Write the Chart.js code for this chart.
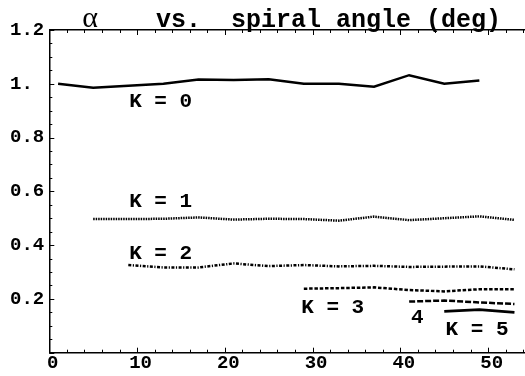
<!DOCTYPE html>
<html>
<head>
<meta charset="utf-8">
<title>alpha vs spiral angle</title>
<script src="https://cdn.jsdelivr.net/npm/chart.js@4.4.1/dist/chart.umd.min.js"></script>
<style>
  html, body { margin: 0; padding: 0; background: #fff; }
  #wrap { width: 525px; height: 376px; }
</style>
</head>
<body>
<div id="wrap"><canvas id="plot" width="525" height="376"></canvas></div>
<script>
"use strict";

// alpha for each K, sampled along the spiral angle (deg)
const ANGLE_K0 = [1, 5, 9, 13, 17, 21, 25, 29, 33, 37, 41, 45, 49];
const ALPHA_K0 = [1.00, 0.985, 0.993, 1.00, 1.016, 1.014, 1.017, 1.00, 1.00, 0.989, 1.032, 1.00, 1.012];

const ANGLE_K1 = [5, 9, 13, 17, 21, 25, 29, 33, 37, 41, 45, 49, 53];
const ALPHA_K1 = [0.497, 0.497, 0.498, 0.503, 0.495, 0.498, 0.497, 0.491, 0.506, 0.493, 0.500, 0.507, 0.494];

const ANGLE_K2 = [9, 13, 17, 21, 25, 29, 33, 37, 41, 45, 49, 53];
const ALPHA_K2 = [0.326, 0.317, 0.317, 0.332, 0.322, 0.326, 0.321, 0.323, 0.319, 0.320, 0.321, 0.310];

const ANGLE_K3 = [29, 33, 37, 41, 45, 49, 53];
const ALPHA_K3 = [0.238, 0.240, 0.243, 0.233, 0.228, 0.236, 0.236];

const ANGLE_K4 = [41, 45, 49, 53];
const ALPHA_K4 = [0.190, 0.194, 0.187, 0.181];

const ANGLE_K5 = [45, 49, 53];
const ALPHA_K5 = [0.154, 0.160, 0.150];

// axis ticks
const X_TICKS = [0, 10, 20, 30, 40, 50];
const X_TICK_LABELS = ["0", "10", "20", "30", "40", "50"];
const X_MINOR = [2, 4, 6, 8, 12, 14, 16, 18, 22, 24, 26, 28, 32, 34, 36, 38, 42, 44, 46, 48, 52, 54];
const Y_TICKS = [0, 0.2, 0.4, 0.6, 0.8, 1.0, 1.2];
const Y_TICK_LABELS = ["", "0.2", "0.4", "0.6", "0.8", "1.", "1.2"];
const Y_MINOR = [0.05, 0.1, 0.15, 0.25, 0.3, 0.35, 0.45, 0.5, 0.55, 0.65, 0.7, 0.75, 0.85, 0.9, 0.95, 1.05, 1.1, 1.15];

// curve names, anchored at their left edge in data units
const CURVE_NAMES = ["K = 0", "K = 1", "K = 2", "K = 3", "4", "K = 5"];
const NAME_X = [9.1, 9.1, 9.1, 28.7, 41.2, 45.15];
const NAME_Y = [0.933, 0.561, 0.367, 0.167, 0.130, 0.087];

const MONO = "'Liberation Mono', 'DejaVu Sans Mono', monospace";

const pts = (xs, ys) => xs.map((x, i) => ({ x, y: ys[i] }));

function series(xs, ys, width, dash) {
  return {
    data: pts(xs, ys),
    borderColor: "#000",
    borderWidth: width,
    borderDash: dash,
    borderCapStyle: "butt",
    pointRadius: 0,
    tension: 0,
    fill: false,
  };
}

// inward tick marks on bottom, top and left axes
const tickMarks = {
  id: "tickMarks",
  afterDraw(chart) {
    const { ctx, chartArea: a, scales } = chart;
    ctx.save();
    ctx.strokeStyle = "#000";
    ctx.lineWidth = 1;
    ctx.beginPath();
    const xt = (vals, len) => vals.forEach(v => {
      const px = Math.round(scales.x.getPixelForValue(v)) + 0.5;
      ctx.moveTo(px, a.bottom); ctx.lineTo(px, a.bottom - len);
      ctx.moveTo(px, a.top); ctx.lineTo(px, a.top + len);
    });
    const yt = (vals, len) => vals.forEach(v => {
      const py = Math.round(scales.y.getPixelForValue(v)) + 0.5;
      ctx.moveTo(a.left, py); ctx.lineTo(a.left + len, py);
    });
    xt(X_TICKS, 5); xt(X_MINOR, 3);
    yt(Y_TICKS, 5); yt(Y_MINOR, 3);
    ctx.stroke();
    ctx.restore();
  }
};

// title and curve names
const annotations = {
  id: "annotations",
  afterDraw(chart) {
    const { ctx, scales } = chart;
    ctx.save();
    ctx.fillStyle = "#000";
    ctx.textBaseline = "alphabetic";
    ctx.textAlign = "center";
    ctx.font = "30px 'Liberation Serif', 'DejaVu Serif', serif";
    ctx.fillText("\u03b1", 90, 26.5);
    ctx.textAlign = "left";
    ctx.font = "bold 25px " + MONO;
    ctx.fillText("vs.  spiral angle (deg)", 156, 26.5);

    ctx.font = "bold 21px " + MONO;
    ctx.textBaseline = "middle";
    CURVE_NAMES.forEach((t, i) => {
      ctx.fillText(t, scales.x.getPixelForValue(NAME_X[i]), scales.y.getPixelForValue(NAME_Y[i]));
    });
    ctx.restore();
  }
};

const axisLine = { display: true, color: "#000", width: 1.5 };
const noGrid = { drawOnChartArea: false, drawTicks: false };

new Chart(document.getElementById("plot"), {
  type: "line",
  data: {
    datasets: [
      series(ANGLE_K0, ALPHA_K0, 2.5, []),
      series(ANGLE_K1, ALPHA_K1, 2.5, [1.5, 1]),
      series(ANGLE_K2, ALPHA_K2, 2.5, [3, 1.5, 1.2, 1.5]),
      series(ANGLE_K3, ALPHA_K3, 2.5, [3.5, 1.8]),
      series(ANGLE_K4, ALPHA_K4, 2.5, [6, 2]),
      series(ANGLE_K5, ALPHA_K5, 2.8, []),
    ]
  },
  options: {
    responsive: false,
    devicePixelRatio: 1,
    animation: false,
    layout: { padding: { left: 10, top: 30, right: 0, bottom: 0 } },
    plugins: { legend: { display: false }, tooltip: { enabled: false }, title: { display: false } },
    scales: {
      x: {
        type: "linear", position: "bottom", min: 0, max: 54.2,
        border: axisLine, grid: noGrid,
        afterBuildTicks: s => { s.ticks = X_TICKS.map(v => ({ value: v })); },
        afterFit: s => { s.height = 23.3; },
        ticks: {
          color: "#000", padding: 1, labelOffset: 3.5, maxRotation: 0,
          font: { family: MONO, size: 19, weight: "bold", lineHeight: 1 },
          callback: (v, i) => X_TICK_LABELS[i],
        },
      },
      x2: {
        type: "linear", position: "top", min: 0, max: 54.2,
        border: axisLine, grid: noGrid,
        ticks: { display: false },
        afterFit: s => { s.height = 0; },
      },
      y: {
        type: "linear", position: "left", min: 0, max: 1.2,
        border: axisLine, grid: noGrid,
        afterBuildTicks: s => { s.ticks = Y_TICKS.map(v => ({ value: v })); },
        afterFit: s => { s.width = 39.3; },
        ticks: {
          color: "#000", crossAlign: "far",
          font: { family: MONO, size: 19, weight: "bold", lineHeight: 1 },
          callback: (v, i) => Y_TICK_LABELS[i],
        },
      },
    },
  },
  plugins: [tickMarks, annotations],
});
</script>
</body>
</html>
